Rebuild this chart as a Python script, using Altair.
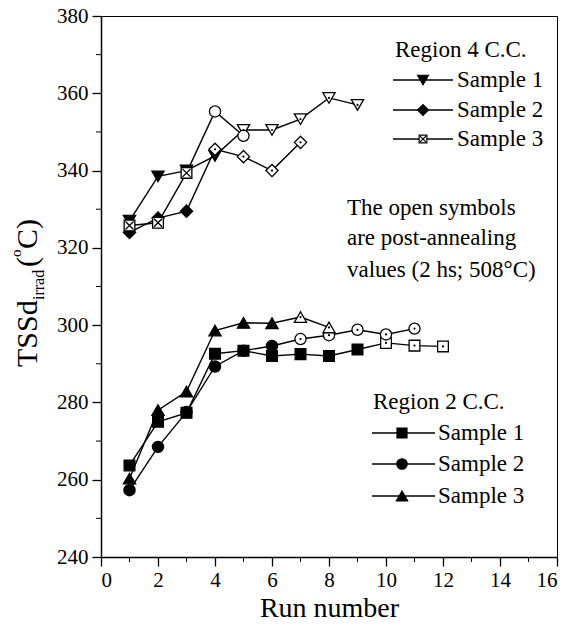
import altair as alt
import pandas as pd

# ---------------- data ----------------
# Region 4 C.C.
r4_s1_runs = [1, 2, 3, 4, 5, 6, 7, 8, 9]
r4_s1_tssd = [327.0, 338.5, 340.0, 343.8, 350.5, 350.5, 353.3, 358.8, 357.0]
r4_s1_open_from = 5

r4_s2_runs = [1, 2, 3, 4, 5, 6, 7]
r4_s2_tssd = [324.0, 327.7, 329.5, 345.5, 343.6, 340.0, 347.3]
r4_s2_open_from = 4

r4_s3_runs = [1, 2, 3, 4, 5]
r4_s3_tssd = [325.8, 326.5, 339.4, 355.3, 349.0]
r4_s3_open_from = 4

# Region 2 C.C.
r2_s1_runs = [1, 2, 3, 4, 5, 6, 7, 8, 9, 10, 11, 12]
r2_s1_tssd = [263.7, 275.0, 277.3, 292.6, 293.4, 292.0, 292.5, 292.0, 293.7, 295.4, 294.7, 294.5]
r2_s1_open_from = 10

r2_s2_runs = [1, 2, 3, 4, 5, 6, 7, 8, 9, 10, 11]
r2_s2_tssd = [257.3, 268.5, 277.5, 289.3, 293.4, 294.6, 296.4, 297.4, 298.8, 297.6, 299.1]
r2_s2_open_from = 7

r2_s3_runs = [1, 2, 3, 4, 5, 6, 7, 8]
r2_s3_tssd = [260.3, 278.0, 282.8, 298.6, 300.6, 300.5, 302.1, 299.4]
r2_s3_open_from = 7

x_ticks = [0, 2, 4, 6, 8, 10, 12, 14, 16]
x_minor = [1, 3, 5, 7, 9, 11, 13, 15]
y_ticks = [240, 260, 280, 300, 320, 340, 360, 380]
y_minor = [250, 270, 290, 310, 330, 350, 370]

legend4_title = "Region 4 C.C."
legend2_title = "Region 2 C.C."
sample_labels = ["Sample 1", "Sample 2", "Sample 3"]
note_lines = ["The open symbols", "are post-annealing", "values (2 hs; 508°C)"]
x_title = "Run number"

FONT = "Liberation Serif"
XPATH = "M-0.75,-0.75L0.75,0.75M-0.75,0.75L0.75,-0.75"

# ---------------- build tables ----------------
rows = []


def add(series, runs, vals, closed_shape, open_shape, open_from, open_dot=True, xmark=False):
    for r, v in zip(runs, vals):
        is_open = r >= open_from
        rows.append(dict(
            series=series, run=r, tssd=v,
            shape=open_shape if is_open else closed_shape,
            fillc="white" if is_open else "black",
            dot=bool(is_open and open_dot),
            xmark=bool(xmark and not is_open),
        ))


add("r4s1", r4_s1_runs, r4_s1_tssd, "triangle-down", "triangle-down", r4_s1_open_from)
add("r4s2", r4_s2_runs, r4_s2_tssd, "diamond", "diamond", r4_s2_open_from)
add("r4s3", r4_s3_runs, r4_s3_tssd, "square", "circle", r4_s3_open_from, open_dot=False, xmark=True)
add("r2s1", r2_s1_runs, r2_s1_tssd, "square", "square", r2_s1_open_from)
add("r2s2", r2_s2_runs, r2_s2_tssd, "circle", "circle", r2_s2_open_from)
add("r2s3", r2_s3_runs, r2_s3_tssd, "triangle-up", "triangle-up", r2_s3_open_from)
df = pd.DataFrame(rows)
df["size"] = df["shape"].map({"triangle-down": 150, "triangle-up": 150, "diamond": 150,
                              "square": 115, "circle": 125})
df.loc[df["xmark"], "fillc"] = "white"

W, H = 456, 541

xs = alt.Scale(domain=[0, 16], nice=False, zero=False)
ys = alt.Scale(domain=[240, 380], nice=False, zero=False)

X = alt.X("run:Q", scale=xs, axis=alt.Axis(values=x_ticks, title=x_title, grid=False, tickSize=9,
                                            labelPadding=3, titlePadding=4, format="d"))
Y = alt.Y("tssd:Q", scale=ys, axis=alt.Axis(values=y_ticks, title=None, grid=False, tickSize=9,
                                             labelPadding=4, format="d"))

base = alt.Chart(df)

lines = base.mark_line(color="black", strokeWidth=1.4).encode(
    x=X, y=Y, detail="series:N", order="run:Q")

shapes = ["triangle-down", "triangle-up", "diamond", "square", "circle"]
points = base.mark_point(stroke="black", strokeWidth=1.3, opacity=1, fillOpacity=1).encode(
    x=X, y=Y,
    shape=alt.Shape("shape:N", scale=alt.Scale(domain=shapes, range=shapes), legend=None),
    fill=alt.Fill("fillc:N", scale=None),
    size=alt.Size("size:Q", scale=None),
)

xmarks = base.transform_filter("datum.xmark").mark_point(
    shape=XPATH, stroke="black", strokeWidth=1.3, size=115, opacity=1).encode(x=X, y=Y)

dots = base.transform_filter("datum.dot").mark_point(
    shape="circle", filled=True, color="black", size=5, opacity=1).encode(x=X, y=Y)

# minor ticks
xminor = alt.Chart(pd.DataFrame({"run": x_minor})).mark_rule(color="black", strokeWidth=1).encode(
    x=alt.X("run:Q", scale=xs), y=alt.value(H), y2=alt.value(H + 5))
yminor = alt.Chart(pd.DataFrame({"tssd": y_minor})).mark_rule(color="black", strokeWidth=1).encode(
    y=alt.Y("tssd:Q", scale=ys), x=alt.value(0), x2=alt.value(-5))

# ---------------- legends (pixel layout) ----------------
leg_rows = []
leg_specs = [
    (legend4_title, 294, 34, [64, 94, 123], 292, 352, 322, 356,
     ["triangle-down", "diamond", "square"]),
    (legend2_title, 272, 386, [417, 448, 480], 271, 334, 301, 337,
     ["square", "circle", "triangle-up"]),
]
title_rows = []
for title, tx, ty, rys, lx1, lx2, sx, txt_x, shp in leg_specs:
    title_rows.append(dict(text=title, px=tx, py=ty))
    for lab, ry, s in zip(sample_labels, rys, shp):
        is_x = (s == "square" and title == legend4_title)
        leg_rows.append(dict(label=lab, py=ry, lx1=lx1, lx2=lx2, sx=sx, tx=txt_x, shape=s,
                             xmark=is_x,
                             fillc="white" if is_x else "black",
                             size=(60 if is_x else
                                   {"triangle-down": 120, "triangle-up": 130, "diamond": 120,
                                    "square": 100, "circle": 110}[s])))
leg = pd.DataFrame(leg_rows)

PX = lambda f: alt.X(f, scale=None, axis=None)
PY = lambda f: alt.Y(f, scale=None, axis=None)

leg_lines = alt.Chart(leg).mark_rule(color="black", strokeWidth=1.4).encode(
    x=PX("lx1:Q"), x2="lx2:Q", y=PY("py:Q"))
leg_pts = alt.Chart(leg).mark_point(stroke="black", strokeWidth=1.2, opacity=1, fillOpacity=1).encode(
    x=PX("sx:Q"), y=PY("py:Q"),
    shape=alt.Shape("shape:N", scale=alt.Scale(domain=shapes, range=shapes), legend=None),
    fill=alt.Fill("fillc:N", scale=None),
    size=alt.Size("size:Q", scale=None))
leg_x = alt.Chart(leg).transform_filter("datum.xmark").mark_point(
    shape=XPATH, stroke="black", strokeWidth=1.2, size=60, opacity=1).encode(
    x=PX("sx:Q"), y=PY("py:Q"))
leg_txt = alt.Chart(leg).mark_text(font=FONT, fontSize=23, align="left", baseline="middle",
                                   color="black").encode(
    x=PX("tx:Q"), y=PY("py:Q"), text="label:N")

note_df = pd.DataFrame(title_rows + [dict(text=t, px=246, py=py)
                                     for t, py in zip(note_lines, [192, 222, 254])])
notes = alt.Chart(note_df).mark_text(font=FONT, fontSize=23, align="left", baseline="middle",
                                     color="black").encode(
    x=PX("px:Q"), y=PY("py:Q"), text="text:N")

# ---------------- y-axis title with sub/superscripts ----------------
ytitle_df = pd.DataFrame([
    dict(text="TSSd", px=-64, py=351, fs=30),
    dict(text="irrad", px=-57, py=284, fs=16),
    dict(text="(", px=-64, py=251, fs=30),
    dict(text="o", px=-80, py=241, fs=15),
    dict(text="C)", px=-64, py=233, fs=30),
])
ytitle = alt.Chart(ytitle_df).mark_text(font=FONT, angle=270, align="left", baseline="alphabetic",
                                        color="black").encode(
    x=PX("px:Q"), y=PY("py:Q"), text="text:N", size=alt.Size("fs:Q", scale=None))

chart = alt.layer(
    xminor, yminor, lines, points, xmarks, dots,
    leg_lines, leg_pts, leg_x, leg_txt, notes, ytitle,
).properties(
    width=W, height=H,
    background="white",
    padding={"left": 101, "top": 16, "right": 13, "bottom": 75},
    autosize=alt.AutoSizeParams(type="none"),
).configure_view(
    stroke="black", strokeWidth=1
).configure_axis(
    labelFont=FONT, labelFontSize=21, labelColor="black",
    titleFont=FONT, titleFontSize=28, titleFontWeight="normal", titleColor="black",
    domainColor="black", domainWidth=1.5, tickColor="black", tickWidth=1.3,
)

chart.save("out.html", embed_options={"renderer": "svg", "actions": False})
